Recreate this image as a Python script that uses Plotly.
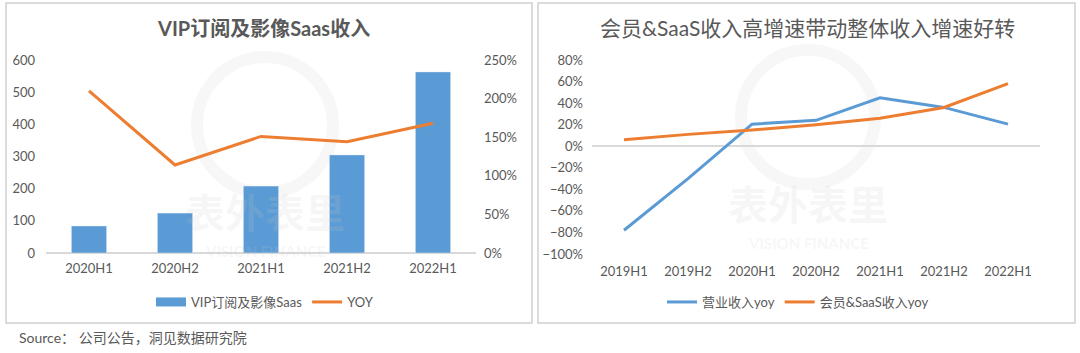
import plotly.graph_objects as go

# Left chart data
cats_left = ["2020H1", "2020H2", "2021H1", "2021H2", "2022H1"]
vip_saas = [84, 124, 208, 305, 563]
vip_yoy = [2.10, 1.14, 1.51, 1.44, 1.68]

# Right chart data
cats_right = ["2019H1", "2019H2", "2020H1", "2020H2", "2021H1", "2021H2", "2022H1"]
rev_yoy = [-0.78, -0.30, 0.205, 0.24, 0.45, 0.36, 0.205]
member_yoy = [0.06, 0.11, 0.15, 0.20, 0.26, 0.36, 0.58]

W, H = 1080, 353
BLUE = "#5B9BD5"
ORANGE = "#ED7D31"
GREY = "#595959"
FONT = "Lato, 'Noto Sans CJK SC', sans-serif"

def px(x):
    return x / W

def py(y):
    return 1 - y / H

fig = go.Figure()

fig.add_trace(go.Bar(x=cats_left, y=vip_saas, name="VIP订阅及影像Saas", marker_color=BLUE,
                     width=0.41, xaxis="x", yaxis="y", showlegend=False))
# legend-only entry to get a wide bar swatch like the reference
fig.add_trace(go.Scatter(x=[None], y=[None], name="VIP订阅及影像Saas", mode="lines",
                         line=dict(color=BLUE, width=9), xaxis="x", yaxis="y", legend="legend"))
fig.add_trace(go.Scatter(x=cats_left, y=vip_yoy, name="YOY", mode="lines",
                         line=dict(color=ORANGE, width=3), xaxis="x", yaxis="y2", legend="legend"))
fig.add_trace(go.Scatter(x=cats_right, y=rev_yoy, name="营业收入yoy", mode="lines",
                         line=dict(color=BLUE, width=3), xaxis="x2", yaxis="y3", legend="legend2"))
fig.add_trace(go.Scatter(x=cats_right, y=member_yoy, name="会员&SaaS收入yoy", mode="lines",
                         line=dict(color=ORANGE, width=3), xaxis="x2", yaxis="y3", legend="legend2"))

tickfont = dict(family=FONT, size=13, color=GREY)

shapes = [
    dict(type="rect", xref="paper", yref="paper", x0=px(6), x1=px(532), y0=py(323), y1=py(3),
         line=dict(color="#d0d0d0", width=1.5), fillcolor="rgba(0,0,0,0)", layer="below"),
    dict(type="rect", xref="paper", yref="paper", x0=px(538), x1=px(1075), y0=py(323), y1=py(3),
         line=dict(color="#d0d0d0", width=1.5), fillcolor="rgba(0,0,0,0)", layer="below"),
]

annotations = [
    dict(text="<b>VIP订阅及影像Saas收入</b>", x=px(263), y=py(28), xref="paper", yref="paper",
         showarrow=False, font=dict(family=FONT, size=20, color=GREY), xanchor="center", yanchor="middle"),
    dict(text="会员&SaaS收入高增速带动整体收入增速好转", x=px(807), y=py(28), xref="paper", yref="paper",
         showarrow=False, font=dict(family=FONT, size=21, color=GREY), xanchor="center", yanchor="middle"),
    dict(text="Source： 公司公告，洞见数据研究院", x=px(17), y=py(337), xref="paper", yref="paper",
         showarrow=False, font=dict(family=FONT, size=14, color=GREY), xanchor="left", yanchor="middle"),
]
# faint watermarks: (center x, circle center y, radius, text y, subtitle y)
for cx, cy, r, ty, sy in ((265, 125, 68, 213, 251), (808, 117, 67, 205, 243)):
    shapes.append(dict(type="circle", xref="paper", yref="paper",
                       x0=px(cx - r), x1=px(cx + r), y0=py(cy + r), y1=py(cy - r),
                       line=dict(color="rgba(200,200,200,0.14)", width=12), layer="below"))
    annotations.append(dict(text="<b>表外表里</b>", x=px(cx), y=py(ty), xref="paper", yref="paper",
                            showarrow=False, font=dict(family=FONT, size=40, color="rgba(200,200,200,0.16)"),
                            xanchor="center", yanchor="middle"))
    annotations.append(dict(text="<b>VISION FINANCE</b>", x=px(cx), y=py(sy), xref="paper", yref="paper",
                            showarrow=False, font=dict(family=FONT, size=15, color="rgba(200,200,200,0.16)"),
                            xanchor="center", yanchor="middle"))

fig.update_layout(
    width=W, height=H,
    margin=dict(l=0, r=0, t=0, b=0, autoexpand=False),
    paper_bgcolor="white", plot_bgcolor="rgba(0,0,0,0)",
    font=dict(family=FONT, color=GREY),
    xaxis=dict(domain=[px(46), px(476)], anchor="y", showgrid=False, showline=False,
               range=[-0.5, 4.5], tickfont=tickfont, ticks="", ticklabelstandoff=6, automargin=False),
    yaxis=dict(domain=[py(253), py(60)], range=[0, 600], dtick=100, showgrid=False,
               zeroline=True, zerolinecolor="#d9d9d9", zerolinewidth=1.5,
               tickfont=tickfont, ticks="", ticklabelstandoff=10, automargin=False),
    yaxis2=dict(overlaying="y", side="right", range=[0, 2.5], dtick=0.5, tickformat=".0%",
                showgrid=False, zeroline=False, tickfont=tickfont, ticks="", ticklabelstandoff=7,
                anchor="x", automargin=False),
    xaxis2=dict(domain=[px(592), px(1040)], anchor="y3", showgrid=False, showline=False,
                range=[-0.5, 6.5], tickfont=tickfont, ticks="", ticklabelstandoff=8, automargin=False),
    yaxis3=dict(domain=[py(254), py(60)], range=[-1.0, 0.8], dtick=0.2, tickformat=".0%",
                showgrid=False, zeroline=True, zerolinecolor="#d9d9d9", zerolinewidth=1.5,
                tickfont=tickfont, ticks="", ticklabelstandoff=8, anchor="x2", automargin=False),
    legend=dict(orientation="h", x=px(265), y=py(302), xanchor="center", yanchor="middle",
                font=dict(family=FONT, size=13, color=GREY), bgcolor="rgba(0,0,0,0)",
                itemwidth=30),
    legend2=dict(orientation="h", x=px(798), y=py(302), xanchor="center", yanchor="middle",
                 font=dict(family=FONT, size=13, color=GREY), bgcolor="rgba(0,0,0,0)",
                 itemwidth=30),
    shapes=shapes,
    annotations=annotations,
)

fig.write_html("out.html")
